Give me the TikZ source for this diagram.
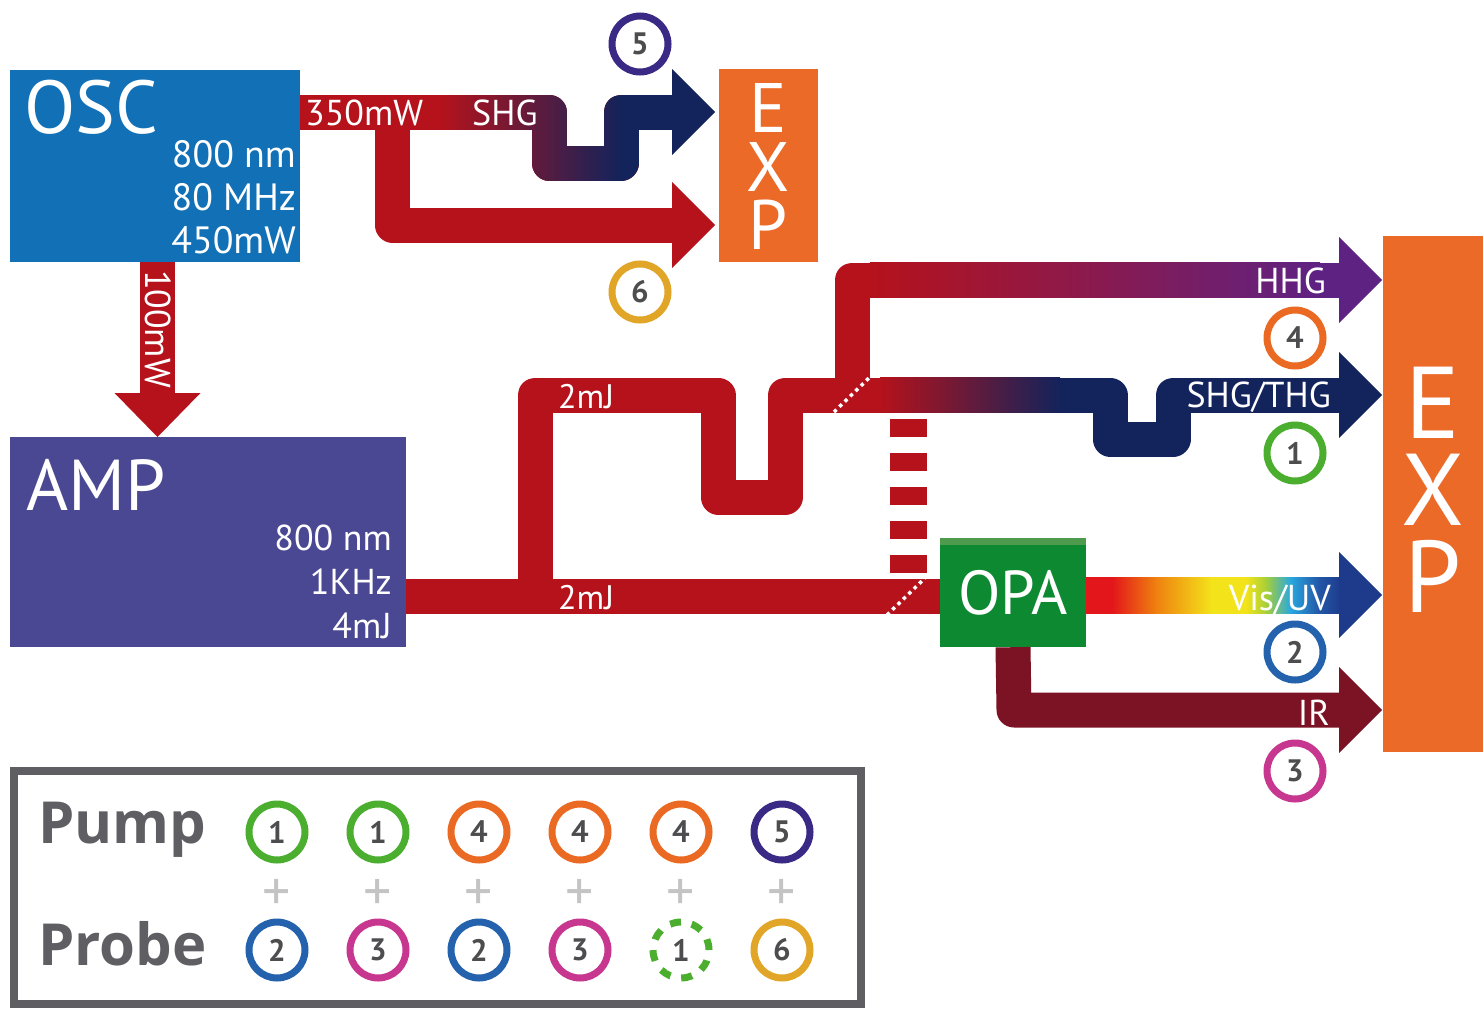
\documentclass[tikz,border=0pt]{standalone}
\usepackage{fontspec}
\setmainfont{PT Sans}
\newfontfamily\legendfont{Open Sans}
\usetikzlibrary{positioning}

\definecolor{oscblue}{HTML}{1270B6}
\definecolor{ampblue}{HTML}{4B4893}
\definecolor{beamred}{HTML}{B5121B}
\definecolor{shgnavy}{HTML}{13235B}
\definecolor{hhgpurple}{HTML}{5E2283}
\definecolor{opagreen}{HTML}{0D8A31}
\definecolor{opalight}{HTML}{4E9B4E}
\definecolor{irred}{HTML}{7B1324}
\definecolor{exporange}{HTML}{EB6A28}
\definecolor{legendgray}{HTML}{5F5E62}
\definecolor{digitgray}{HTML}{4D4D4F}
\definecolor{plusgray}{HTML}{C4C4C4}
\definecolor{numgreen}{HTML}{4BAE2F}
\definecolor{numorange}{HTML}{EB6A23}
\definecolor{numblue}{HTML}{2462AD}
\definecolor{nummagenta}{HTML}{C8378F}
\definecolor{numindigo}{HTML}{3B2A85}
\definecolor{numgold}{HTML}{E1A528}
\definecolor{visred}{HTML}{E3161B}
\definecolor{visorange}{HTML}{EF7F0F}
\definecolor{visyellow}{HTML}{F3E31A}
\definecolor{visgreen}{HTML}{A6CE39}
\definecolor{viscyan}{HTML}{29A9E0}
\definecolor{visblue}{HTML}{2358A8}
\definecolor{visnavy}{HTML}{1D3A8B}

\newcommand{\beamhead}[2]{\fill[#2] (#1) ++(-43,-43) -- (#1) -- ++(-43,43) -- cycle;}
\newcommand{\shgroute}{(oscout) -- (shgdown) -- (shglow) -- (shgrise) -- (shgup) -- (tipfive)}

\tikzset{
  box/.style={fill=#1, inner sep=0pt},
  beam/.style={line width=35pt, line join=round},
  tobox/.style={shorten >=42pt},
  boxtitle/.style={text=white, inner sep=0pt, anchor=base west},
  boxinfo/.style={text=white, inner sep=0pt, anchor=base east},
  beamlabel/.style={text=white, inner sep=0pt, font=\fontsize{36}{36}\selectfont},
  expword/.style={text=white, inner sep=0pt, align=center},
  num/.style={circle, draw=#1, line width=7pt, minimum size=56pt, inner sep=0pt,
    text=digitgray, font=\bfseries\fontsize{31}{31}\selectfont},
  splitter/.style={white, line width=3.5pt, dash pattern=on 3.5pt off 4pt},
  legendword/.style={text=legendgray, inner sep=0pt, anchor=base west,
    font=\legendfont\bfseries\fontsize{58}{58}\selectfont},
}

\begin{document}
\begin{tikzpicture}[x=1pt,y=-1pt]
\useasboundingbox (0,0) rectangle (1483,1009);

% boxes
	\node[box=oscblue, minimum width=290pt, minimum height=192pt] (osc) at (155,166) {};
	\node[box=ampblue, minimum width=396pt, minimum height=210pt] (amp) at (208,542) {};
	\node[box=opagreen, minimum width=146pt, minimum height=109pt] (opa) at (1013,592.5) {};
	\fill[opalight] (opa.north west) rectangle ([yshift=-7pt]opa.north east);
	\node[box=exporange, minimum width=99pt, minimum height=193pt] (expsmall) at (768.5,165.5) {};
	\node[box=exporange, minimum width=100pt, minimum height=516pt] (expbig) at (1433,494) {};
%
	\coordinate (oscout) at (osc.east |- 0,112);
	\coordinate (shgdown) at (549,112);
	\coordinate (shglow) at (549,163);
	\coordinate (shgrise) at (621,163);
	\coordinate (shgup) at (621,112);
	\coordinate (tipfive) at (715,112);
	\coordinate (sixdown) at (392.5,112);
	\coordinate (sixlow) at (392.5,225);
	\coordinate (tipsix) at (715,225);
	\coordinate (oscdown) at (157.5,262);
	\coordinate (ampin) at (157.5,437);
	\coordinate (ampout) at (amp.east |- 0,596);
	\coordinate (split) at (535,596);
	\coordinate (upleft) at (535,395);
	\coordinate (dipa) at (718,395);
	\coordinate (dipb) at (718,497);
	\coordinate (dipc) at (785,497);
	\coordinate (dipd) at (785,395);
	\coordinate (bsplit) at (852,395);
	\coordinate (hhgbend) at (852,280);
	\coordinate (hhgfade) at (870,280);
	\coordinate (hhgfull) at (1320,280);
	\coordinate (tipfour) at (1382,280);
	\coordinate (thgfade) at (880,395);
	\coordinate (thgfull) at (1060,395);
	\coordinate (notcha) at (1110,395);
	\coordinate (notchb) at (1110,439);
	\coordinate (notchc) at (1173,439);
	\coordinate (notchd) at (1173,395);
	\coordinate (tipone) at (1382,395);
	\coordinate (tiptwo) at (1382,595);
	\coordinate (irbend) at (1014,710);
	\coordinate (tipthree) at (1382,710);
	\coordinate (dashtop) at (908,419);
	\coordinate (dashbot) at (908,578);
%
% oscillator beams
	\draw[beam, tobox, beamred] \shgroute;
	\begin{scope}
		\clip (620,0) rectangle (720,300);
		\draw[beam, tobox, shgnavy] \shgroute;
	\end{scope}
	\foreach \i in {0,...,35}{
		\pgfmathsetmacro{\xa}{440+5*\i}
		\pgfmathsetmacro{\pc}{100-(\i+0.5)*100/36}
		\begin{scope}
			\clip (\xa,0) rectangle (\xa+5.6,300);
			\draw[beam, tobox, beamred!\pc!shgnavy] \shgroute;
		\end{scope}
	}
	\beamhead{tipfive}{shgnavy}
	\draw[beam, tobox, beamred] (sixdown) -- (sixlow) -- (tipsix);
	\beamhead{tipsix}{beamred}
	\draw[beam, beamred, shorten >=43pt] (oscdown) -- (ampin);
	\fill[beamred] (ampin) ++(-43,-44) -- (ampin) -- ++(43,-44) -- cycle;
%
% amplifier beams
	\draw[beam, beamred] (ampout) -- (opa.west |- ampout);
	\draw[beam, beamred] (split) -- (upleft) -- (dipa) -- (dipb) -- (dipc) -- (dipd) -- (bsplit) -- (thgfade);
	\shade[left color=beamred, right color=shgnavy] ([yshift=17.5pt]thgfade) rectangle ([yshift=-17.5pt]thgfull);
	\draw[beam, tobox, shgnavy] (thgfull) -- (notcha) -- (notchb) -- (notchc) -- (notchd) -- (tipone);
	\beamhead{tipone}{shgnavy}
	\draw[beam, beamred] (bsplit) -- (hhgbend) -- (hhgfade);
	\shade[left color=beamred, right color=hhgpurple] ([yshift=17.5pt]hhgfade) rectangle ([yshift=-17.5pt]hhgfull);
	\draw[beam, tobox, hhgpurple] (hhgfull) -- (tipfour);
	\beamhead{tipfour}{hhgpurple}
	\draw[beamred, line width=37pt, dash pattern=on 18pt off 16pt] (dashtop) -- (dashbot);
%
% opa beams
	\draw[line width=36pt, tobox, visnavy] (opa.east |- tiptwo) -- (tiptwo);
	\foreach \xa/\xb/\ca/\cb in {1086/1112/visred/visred, 1112/1155/visred/visorange,
		1155/1211/visorange/visyellow, 1211/1246/visyellow/visyellow, 1246/1266/visyellow/visgreen,
		1266/1290/visgreen/viscyan, 1290/1318/viscyan/visblue, 1318/1341/visblue/visnavy}
		\shade[left color=\ca, right color=\cb] (\xa,577) rectangle (\xb+0.6,613);
	\beamhead{tiptwo}{visnavy}
	\draw[beam, tobox, irred] (opa.south) -- (irbend) -- (tipthree);
	\beamhead{tipthree}{irred}
%
	\draw[splitter] (834,412) -- (870,377);
	\draw[splitter] (887,615) -- (925,578);
%
% box texts
	\node[boxtitle, font=\fontsize{75}{75}\selectfont] (osctitle) at (24,133) {OSC};
	\node[boxinfo, font=\fontsize{38}{38}\selectfont] (oscwave) at (296,167) {800 nm};
	\node[boxinfo, font=\fontsize{38}{38}\selectfont] (oscrate) at (296,210) {80 MHz};
	\node[boxinfo, font=\fontsize{38}{38}\selectfont] (oscpower) at (296,253) {450mW};
	\node[boxtitle, font=\fontsize{72}{72}\selectfont] (amptitle) at (26,510) {AMP};
	\node[boxinfo, font=\fontsize{36}{36}\selectfont] (ampwave) at (392,550) {800 nm};
	\node[boxinfo, font=\fontsize{36}{36}\selectfont] (amprate) at (392,594) {1KHz};
	\node[boxinfo, font=\fontsize{36}{36}\selectfont] (ampenergy) at (392,638) {4mJ};
	\node[text=white, font=\fontsize{62}{62}\selectfont] (opatitle) at (opa) {OPA};
%
	\node[expword, font=\fontsize{70}{58.5}\selectfont] (expsmalltext) at (768,166.5) {E\\X\\P};
	\node[expword, font=\fontsize{102}{87}\selectfont] (expbigtext) at (1433,490) {E\\X\\P};
%
% beam labels
	\node[beamlabel, anchor=base west] (lblpower) at (305,125) {350mW};
	\node[beamlabel, anchor=base west] (lblshg) at (472,125) {SHG};
	\node[beamlabel, rotate=-90] (lblmw) at (158,329) {100mW};
	\node[beamlabel, anchor=base west, font=\fontsize{34}{34}\selectfont] (lblupper) at (558,408) {2mJ};
	\node[beamlabel, anchor=base west, font=\fontsize{34}{34}\selectfont] (lbllower) at (558,609) {2mJ};
	\node[beamlabel, anchor=base east] (lblhhg) at (1326,293) {HHG};
	\node[beamlabel, anchor=base east] (lblthg) at (1331,407) {SHG/THG};
	\node[beamlabel, anchor=base east] (lblvis) at (1331,610) {Vis/UV};
	\node[beamlabel, anchor=base east] (lblir) at (1330,725) {IR};
%
	\node[num=numindigo] (five) at (640,44) {5};
	\node[num=numgold] (six) at (640,292) {6};
	\node[num=numorange] (four) at (1295,338) {4};
	\node[num=numgreen] (one) at (1295,453) {1};
	\node[num=numblue] (two) at (1295,652) {2};
	\node[num=nummagenta] (three) at (1295,771) {3};
%
% legend
	\node[draw=legendgray, line width=8pt, minimum width=847pt, minimum height=233pt, inner sep=0pt] (legend) at (437.5,887.5) {};
	\node[legendword] (pump) at (38,843) {Pump};
	\node[legendword] (probe) at (38,965) {Probe};
	\foreach \x/\p/\pc [count=\i] in {277/1/numgreen, 378/1/numgreen, 479/4/numorange,
		580/4/numorange, 681/4/numorange, 782/5/numindigo}{
		\node[num=\pc] (pump\i) at (\x,832) {\p};
		\node[text=plusgray, inner sep=0pt, font=\fontsize{56}{56}\selectfont] (plus\i) at (\x,895) {+};
	}
	\foreach \x/\q/\qc [count=\i] in {277/2/numblue, 378/3/nummagenta, 479/2/numblue, 580/3/nummagenta, 782/6/numgold}
		\node[num=\qc] (probe\i) at (\x,950) {\q};
	\node[num=numgreen, dash pattern=on 11pt off 11pt] (probedashed) at (681,950) {1};
\end{tikzpicture}
\end{document}
